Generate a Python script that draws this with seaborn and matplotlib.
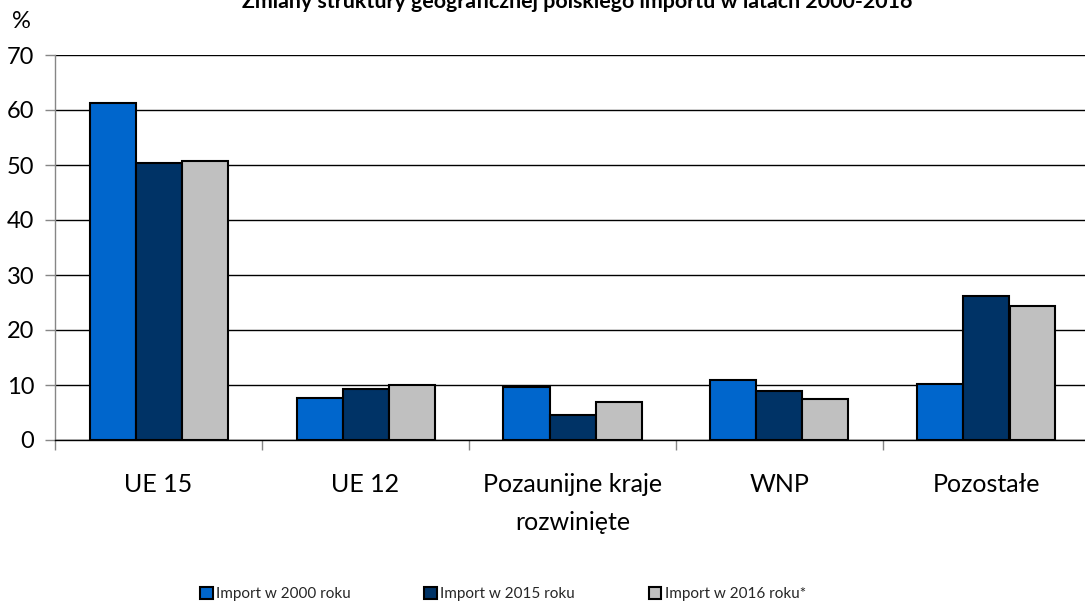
import matplotlib
matplotlib.use("Agg")
import matplotlib.pyplot as plt
import seaborn as sns
import pandas as pd
from matplotlib.patches import Patch
from matplotlib.ticker import FixedLocator, MultipleLocator

categories = ["UE 15", "UE 12", "Pozaunijne kraje\nrozwinięte", "WNP", "Pozostałe"]
series_names = ["Import w 2000 roku", "Import w 2015 roku", "Import w 2016 roku*"]
import_2000 = [61.2, 7.7, 9.6, 10.9, 10.2]
import_2015 = [50.4, 9.3, 4.5, 9.0, 26.2]
import_2016 = [50.7, 10.0, 6.9, 7.5, 24.3]
colors = ["#0066CC", "#003366", "#C0C0C0"]
title = "Zmiany struktury geograficznej polskiego importu w latach 2000-2016"

rows = []
for name, vals in zip(series_names, [import_2000, import_2015, import_2016]):
    for c, v in zip(categories, vals):
        rows.append({"cat": c, "series": name, "value": v})
df = pd.DataFrame(rows)

sns.set_theme(style="white")
plt.rcParams["font.family"] = ["Lato", "DejaVu Sans"]

W, H = 1085, 605
fig = plt.figure(figsize=(W / 100, H / 100), dpi=100)
ax = fig.add_axes([55 / W, (H - 440) / H, 1035 / W, 385 / H])

sns.barplot(data=df, x="cat", y="value", hue="series", order=categories,
            hue_order=series_names, palette=colors, width=3 / 4.5, gap=0,
            edgecolor="black", linewidth=1.5, saturation=1, ax=ax, legend=False, zorder=3)

ax.set_xlim(-0.5, 4.5)
ax.set_ylim(0, 70)
ax.yaxis.set_major_locator(MultipleLocator(10))
ax.grid(axis="y", color="black", linewidth=1.0, zorder=0)
ax.set_axisbelow(True)
ax.set_xlabel("")
ax.set_ylabel("")

for s in ["top", "right"]:
    ax.spines[s].set_visible(False)
ax.spines["left"].set_color("#868686")
ax.spines["left"].set_linewidth(1.0)
ax.spines["bottom"].set_color("black")
ax.spines["bottom"].set_linewidth(1.0)

ax.tick_params(axis="y", which="major", left=True, length=7, width=1.0, color="#868686",
               labelsize=17, pad=8, labelcolor="black")
ax.tick_params(axis="x", which="major", bottom=True, length=0, labelsize=18, pad=24,
               labelcolor="black")
ax.xaxis.set_minor_locator(FixedLocator([-0.5, 0.5, 1.5, 2.5, 3.5, 4.5]))
ax.tick_params(axis="x", which="minor", bottom=True, length=7, width=1.0, color="#868686")
for lbl in ax.get_xticklabels():
    lbl.set_linespacing(1.75)

fig.text(577 / W, 1 - 8 / H, title, ha="center", va="baseline", fontsize=15.4,
         fontweight="bold", color="black")
fig.text(21 / W, 1 - 22 / H, "%", ha="center", va="center", fontsize=17, color="black")

handles = [Patch(facecolor=c, edgecolor="black", linewidth=1.5) for c in colors]
fig.legend(handles, series_names, loc="center", bbox_to_anchor=(503 / W, 1 - 594 / H),
           ncol=3, frameon=False, fontsize=11, handlelength=0.8, handleheight=0.8,
           handletextpad=0.25, columnspacing=4.8, borderpad=0)

fig.savefig("out.png", dpi=100)
